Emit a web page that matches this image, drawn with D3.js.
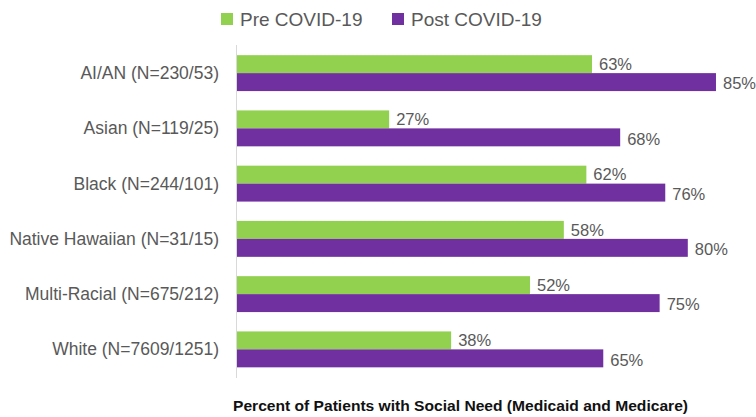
<!DOCTYPE html>
<meta charset="utf-8">
<style>
body { margin: 0; background: #fff; }
text { font-family: "Liberation Sans", Arial, sans-serif; }
.cat { fill: #595959; font-size: 17.5px; }
.val { fill: #595959; font-size: 16.5px; }
.leg { fill: #595959; font-size: 19px; }
.title { fill: #111; font-size: 15px; font-weight: bold; }
</style>
<svg width="756" height="417"></svg>
<script src="https://d3js.org/d3.v7.min.js"></script>
<script>

var categories = ["AI/AN (N=230/53)", "Asian (N=119/25)", "Black (N=244/101)",
                  "Native Hawaiian (N=31/15)", "Multi-Racial (N=675/212)", "White (N=7609/1251)"];
var preCovid = [63, 27, 62, 58, 52, 38];
var postCovid = [85, 68, 76, 80, 75, 65];
var seriesNames = ["Pre COVID-19", "Post COVID-19"];
var colors = ["#92D050", "#7030A0"];
var axisTitle = "Percent of Patients with Social Need (Medicaid and Medicare)";

var svg = d3.select("svg");

var x = d3.scaleLinear().domain([0, 100]).range([237, 800.5]);
var y = d3.scaleBand().domain(categories).range([45.5, 377]).paddingInner(0.35).paddingOuter(0.175);
var sub = d3.scaleBand().domain([0, 1]).range([0, y.bandwidth()]);

// axis line
svg.append("line")
    .attr("x1", x(0) - 0.5).attr("x2", x(0) - 0.5)
    .attr("y1", 45).attr("y2", 378)
    .attr("stroke", "#d9d9d9").attr("stroke-width", 1);

var rows = categories.map(function(c, i) { return {cat: c, vals: [preCovid[i], postCovid[i]]}; });

var g = svg.selectAll("g.row").data(rows).enter().append("g")
    .attr("class", "row")
    .attr("transform", function(d) { return "translate(0," + y(d.cat) + ")"; });

g.selectAll("rect").data(function(d) { return d.vals; }).enter().append("rect")
    .attr("x", x(0))
    .attr("y", function(d, i) { return sub(i); })
    .attr("width", function(d) { return x(d) - x(0); })
    .attr("height", sub.bandwidth())
    .attr("fill", function(d, i) { return colors[i]; });

g.selectAll("text.val").data(function(d) { return d.vals; }).enter().append("text")
    .attr("class", "val")
    .attr("x", function(d) { return x(d) + 7; })
    .attr("y", function(d, i) { return sub(i) + sub.bandwidth() / 2 + (i === 0 ? 0 : 1.5); })
    .attr("dy", "0.35em")
    .text(function(d) { return d + "%"; });

g.append("text")
    .attr("class", "cat")
    .attr("x", 219)
    .attr("y", y.bandwidth() / 2)
    .attr("dy", "0.35em")
    .attr("text-anchor", "end")
    .text(function(d) { return d.cat; });

// legend
var legX = [221, 392];
var leg = svg.selectAll("g.leg").data(seriesNames).enter().append("g")
    .attr("transform", function(d, i) { return "translate(" + legX[i] + ",13)"; });
leg.append("rect").attr("width", 12).attr("height", 12)
    .attr("fill", function(d, i) { return colors[i]; });
leg.append("text").attr("class", "leg")
    .attr("x", 19).attr("y", 6).attr("dy", "0.35em")
    .text(function(d) { return d; });

svg.append("text")
    .attr("class", "title")
    .attr("x", 233).attr("y", 411)
    .attr("textLength", 455)
    .attr("lengthAdjust", "spacingAndGlyphs")
    .text(axisTitle);

</script>
